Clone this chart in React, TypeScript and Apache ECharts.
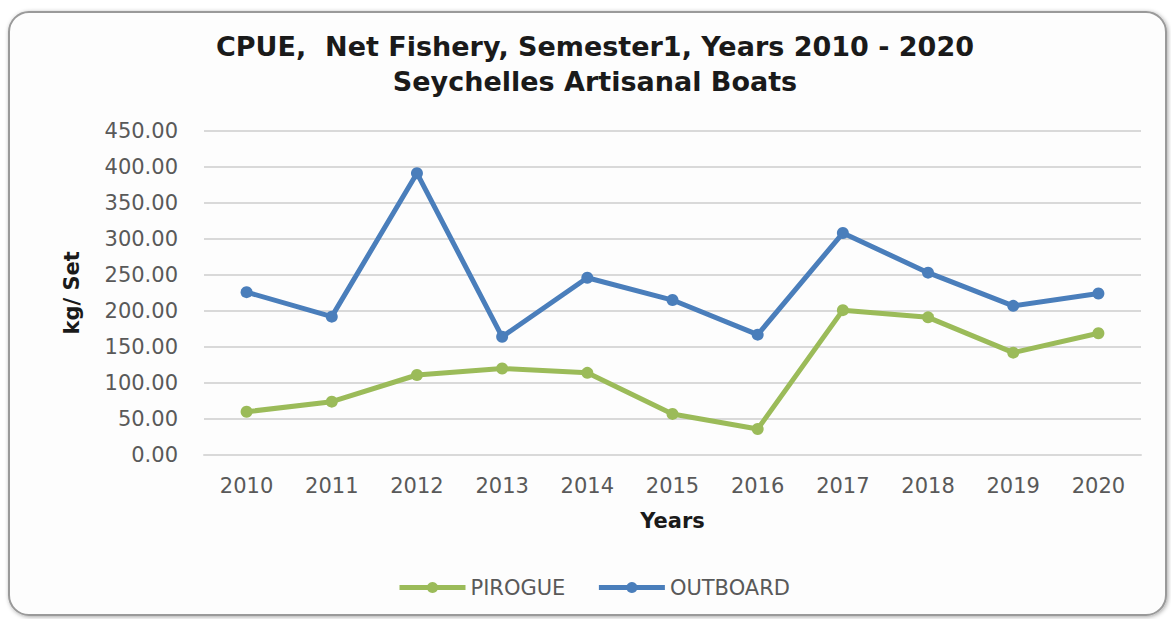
import React, { useEffect, useRef } from "react";
import * as echarts from "echarts";

const years = ["2010", "2011", "2012", "2013", "2014", "2015", "2016", "2017", "2018", "2019", "2020"];
const pirogue = [60, 74, 111, 120, 114, 57, 36, 201, 191, 142, 169];
const outboard = [226, 192, 391, 164, 246, 215, 167, 308, 253, 207, 224];

const GREEN = "#9BBB59";
const BLUE = "#4A7EBB";

export default function App() {
  const ref = useRef<HTMLDivElement>(null);
  useEffect(() => {
    const chart = echarts.init(ref.current!, null, { renderer: "svg" });
    chart.setOption({
      animation: false,
      backgroundColor: "#ffffff",
      graphic: [
        {
          type: "rect",
          shape: { x: 9, y: 12, width: 1157, height: 603, r: 20 },
          style: {
            fill: "#fdfdfd",
            stroke: "#9a9a9a",
            lineWidth: 2,
            shadowBlur: 4,
            shadowColor: "rgba(0,0,0,0.35)",
            shadowOffsetX: 1,
            shadowOffsetY: 1,
          },
          z: -10,
        },
      ],
      title: {
        text: "CPUE,  Net Fishery, Semester1, Years 2010 - 2020\nSeychelles Artisanal Boats",
        left: 590,
        textAlign: "center",
        top: 24,
        textStyle: {
          fontFamily: "DejaVu Sans",
          fontWeight: "bold",
          fontSize: 27,
          lineHeight: 35,
          color: "#1a1a1a",
        },
      },
      legend: {
        left: 392,
        top: 572,
        itemWidth: 66,
        itemHeight: 14,
        itemGap: 31,
        lineStyle: { width: 5 },
        textStyle: { fontFamily: "DejaVu Sans", fontSize: 21, color: "#595959" },
        data: ["PIROGUE", "OUTBOARD"],
      },
      grid: { left: 204, right: 30, top: 130.7, bottom: 164 },
      xAxis: {
        type: "category",
        data: years,
        boundaryGap: true,
        name: "Years",
        nameLocation: "middle",
        nameGap: 55,
        nameTextStyle: { fontFamily: "DejaVu Sans", fontWeight: "bold", fontSize: 21, color: "#1a1a1a" },
        axisLine: { lineStyle: { color: "#d9d9d9", width: 2 } },
        axisTick: { show: false },
        axisLabel: { fontFamily: "DejaVu Sans", fontSize: 21, color: "#595959", margin: 20 },
      },
      yAxis: {
        type: "value",
        min: 0,
        max: 450,
        interval: 50,
        name: "kg/ Set",
        nameLocation: "middle",
        nameRotate: 90,
        nameGap: 122,
        nameTextStyle: { fontFamily: "DejaVu Sans", fontWeight: "bold", fontSize: 21, color: "#1a1a1a" },
        axisLine: { show: false },
        axisTick: { show: false },
        axisLabel: {
          fontFamily: "DejaVu Sans",
          fontSize: 21,
          color: "#595959",
          margin: 26,
          formatter: (v: number) => v.toFixed(2),
        },
        splitLine: { lineStyle: { color: "#d9d9d9", width: 2 } },
      },
      series: [
        {
          name: "PIROGUE",
          type: "line",
          data: pirogue,
          symbol: "circle",
          symbolSize: 12,
          color: GREEN,
          lineStyle: { width: 5, color: GREEN },
          itemStyle: { color: GREEN },
        },
        {
          name: "OUTBOARD",
          type: "line",
          data: outboard,
          symbol: "circle",
          symbolSize: 12,
          color: BLUE,
          lineStyle: { width: 5, color: BLUE },
          itemStyle: { color: BLUE },
        },
      ],
    });
    return () => chart.dispose();
  }, []);
  return (
    <div
      ref={ref}
      style={{ position: "fixed", left: 0, top: 0, width: 1171, height: 619 }}
    />
  );
}
